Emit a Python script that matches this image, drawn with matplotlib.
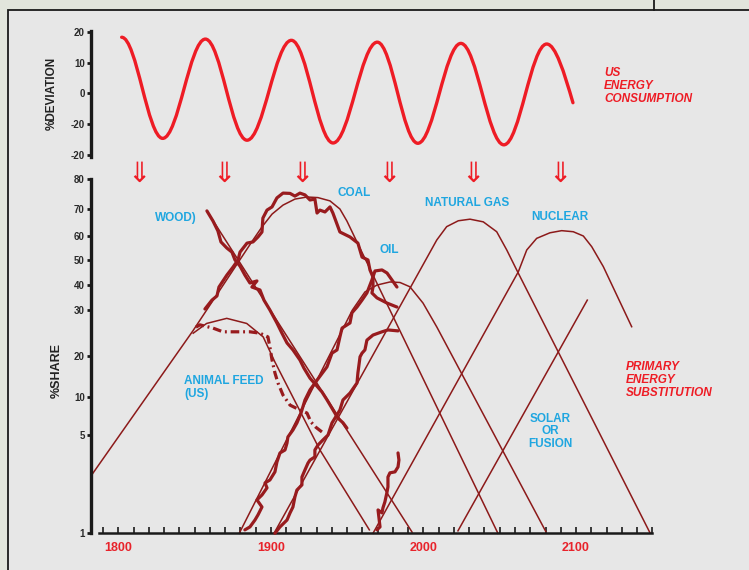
import numpy as np
import matplotlib
matplotlib.use("Agg")
import matplotlib.pyplot as plt
from matplotlib.path import Path
from matplotlib.patches import PathPatch, Rectangle
from matplotlib.lines import Line2D
from matplotlib.transforms import blended_transform_factory

# ---------------- data ----------------
# US energy consumption, % deviation (extremes of the wave)
wave_years = [1802.1, 1829.0, 1857.0, 1884.3, 1913.4, 1940.7, 1969.7, 1996.3, 2024.5, 2052.7, 2080.8, 2098.0]
wave_values = [18.3, -14.6, 17.7, -15.2, 17.3, -16.1, 16.7, -16.2, 16.3, -16.7, 16.1, -3.0]

arrow_years = [1813.6, 1869.2, 1920.5, 1977.6, 2032.3, 2089.5]

# substitution curves (thin)
wood_fit_years = [1859.3, 1992.5]
wood_fit_share = [68.2, 1.05]
coal_fit_years = [1782.4, 1848.8, 1888.2, 1894.1, 1900.7, 1907.9, 1915.7, 1923.6, 1930.8, 1938.7, 1945.2, 1949.8, 1955.1, 2048.8]
coal_fit_share = [3.37, 25.5, 58.3, 63.4, 68.2, 71.4, 73.4, 74.1, 73.9, 72.8, 70.1, 65.6, 59.2, 1.0]
feed_fit_years = [1849.0, 1857.8, 1871.0, 1884.1, 1894.9, 1902.6, 1932.1, 1964.5]
feed_fit_share = [25.0, 27.1, 28.2, 27.1, 24.2, 18.6, 4.39, 1.14]
oil_fit_years = [1879.2, 1953.4, 1961.6, 1969.5, 1978.0, 1984.6, 1991.1, 1999.7, 2008.8, 2080.3]
oil_fit_share = [1.0, 30.0, 37.3, 40.1, 41.3, 41.1, 39.4, 32.8, 26.3, 1.06]
gas_fit_years = [1902.0, 2008.7, 2015.2, 2022.8, 2030.5, 2039.2, 2048.0, 2054.6, 2061.1, 2148.5]
gas_fit_share = [1.0, 58.3, 63.5, 65.7, 66.3, 65.3, 61.6, 54.1, 46.0, 1.02]
nuclear_fit_years = [1966.9, 2062.2, 2067.7, 2074.2, 2082.9, 2090.6, 2098.2, 2104.8, 2110.3, 2117.9, 2136.5]
nuclear_fit_share = [1.0, 45.3, 54.1, 59.0, 61.2, 62.0, 61.6, 60.0, 55.5, 47.3, 26.4]
solar_fit_years = [2022.6, 2107.4]
solar_fit_share = [1.1, 34.0]

# historical data (thick)
wood_years = [1858.0, 1862.0, 1865.2, 1867.2, 1871.1, 1874.4, 1876.4, 1879.7, 1882.9, 1886.2, 1890.8, 1887.5,
              1892.8, 1895.4, 1899.3, 1903.9, 1907.2, 1910.5, 1914.4, 1919.0, 1921.6, 1925.6, 1929.5, 1933.4,
              1936.7, 1940.6, 1943.9, 1947.2, 1949.8]
wood_share = [69.4, 65.6, 61.9, 57.5, 54.9, 53.2, 49.9, 47.5, 44.0, 40.9, 41.7, 39.3,
              38.1, 34.0, 30.0, 27.2, 25.0, 22.9, 21.4, 19.1, 17.1, 14.6, 12.9, 11.2,
              9.6, 8.3, 7.2, 6.6, 5.9]
coal_years = [1856.7, 1861.3, 1864.6, 1865.9, 1871.1, 1875.1, 1878.4, 1879.7, 1884.3, 1888.2, 1891.5, 1894.1,
              1894.7, 1897.4, 1900.7, 1903.9, 1907.9, 1912.5, 1915.7, 1919.0, 1922.3, 1925.6, 1928.8, 1930.2,
              1932.1, 1935.4, 1938.7, 1940.6, 1945.2, 1951.8, 1957.0, 1959.7, 1963.6, 1964.9, 1966.9, 1966.9,
              1966.2, 1969.5, 1976.1, 1982.6]
coal_share = [30.4, 34.0, 35.7, 39.3, 44.0, 47.1, 49.9, 53.2, 57.0, 57.5, 59.6, 61.5,
              66.7, 69.7, 70.8, 73.8, 75.4, 75.3, 74.4, 75.4, 74.8, 73.1, 73.4, 68.6,
              69.7, 69.0, 70.8, 68.6, 61.5, 59.6, 57.0, 51.1, 49.9, 46.0, 43.2, 39.3,
              36.9, 34.9, 32.8, 31.2]
oil_years = [1882.9, 1886.2, 1889.5, 1891.5, 1894.1, 1890.8, 1894.1, 1897.4, 1896.1, 1899.3, 1902.6, 1903.9,
             1905.9, 1909.2, 1910.5, 1911.1, 1914.4, 1917.0, 1919.7, 1922.3, 1925.6, 1930.2, 1936.7, 1940.0,
             1943.3, 1945.2, 1946.6, 1951.8, 1953.1, 1956.4, 1959.7, 1962.9, 1966.2, 1968.2, 1972.8, 1976.1,
             1979.3, 1982.6]
oil_share = [1.14, 1.26, 1.54, 1.75, 2.07, 2.36, 2.56, 2.85, 3.05, 3.17, 3.50, 3.90,
             4.27, 4.39, 4.67, 4.92, 5.65, 6.57, 7.87, 9.57, 11.7, 14.1, 17.4, 20.7,
             21.4, 24.2, 26.1, 27.2, 29.4, 31.2, 34.0, 36.9, 42.1, 45.6, 46.0, 44.8,
             42.1, 39.3]
gas_years = [1902.6, 1905.9, 1910.5, 1912.5, 1914.4, 1915.7, 1917.0, 1920.3, 1920.3, 1922.3, 1924.3, 1925.6,
             1928.8, 1928.8, 1930.8, 1934.1, 1937.4, 1940.0, 1945.2, 1947.2, 1951.8, 1956.4, 1957.0, 1958.4,
             1959.7, 1961.6, 1962.9, 1966.9, 1972.8, 1976.7, 1983.3]
gas_share = [1.0, 1.26, 1.54, 1.83, 2.07, 2.48, 2.76, 2.97, 3.29, 3.58, 3.86, 3.98,
             4.11, 4.39, 4.59, 4.80, 5.0, 6.57, 8.26, 9.57, 10.9, 13.4, 15.9, 19.9,
             20.7, 21.4, 23.5, 24.6, 25.3, 25.7, 25.5]
nuclear_years = [1969.5, 1971.5, 1970.2, 1972.8, 1973.4, 1974.7, 1976.1, 1976.7, 1976.7, 1978.0, 1981.3,
                 1983.3, 1983.9, 1983.3]
nuclear_share = [1.14, 1.26, 1.95, 1.83, 2.03, 2.28, 2.68, 2.89, 3.29, 3.46, 3.50,
                 3.70, 3.98, 4.27]
feed_years = [1850.8, 1853.4, 1862.0, 1868.5, 1877.7, 1886.2, 1892.8, 1898.0, 1899.3, 1900.7, 1902.6, 1904.6,
              1907.9, 1912.5, 1919.0, 1923.6, 1926.2, 1929.5, 1933.4]
feed_share = [26.3, 26.8, 26.1, 25.3, 25.3, 25.3, 25.0, 24.2, 22.0, 19.1, 15.9, 13.4,
              10.4, 8.9, 8.26, 7.87, 6.70, 6.0, 5.4]

# printed share axis: tick values and their spacing (from the 1 % tick)
share_ticks = [1, 5, 10, 20, 30, 40, 50, 60, 70, 80]
share_spacing = [0, 98.3, 136.6, 176.9, 223.3, 248.0, 273.6, 297.3, 324.0, 354.0]

dev_ticks = [20, 10, 0, -10, -20]
dev_labels = ["20", "10", "0", "-20", "-20"]

# ---------------- style ----------------
W, H = 749, 570
RED = "#ee1c25"
DARK = "#981b1e"
THIN = "#8c1a1a"
BLUE = "#1fa6e0"
FONT = "Liberation Sans"

plt.rcParams["font.family"] = [FONT, "DejaVu Sans"]

fig = plt.figure(figsize=(W / 100, H / 100), dpi=100)
fig.patch.set_facecolor("#e2e5dc")


def rect(l, t, r, b):
    return [l / W, 1 - b / H, (r - l) / W, (b - t) / H]


# panel with black border
fig.add_artist(Rectangle((8 / W, -0.1), 1.2, 1.1 - 10 / H, transform=fig.transFigure,
                         facecolor="#e7e7e7", edgecolor="#1a1a1a", lw=1.3, zorder=-5))
fig.add_artist(Line2D([654 / W, 654 / W], [1, 1 - 10 / H], transform=fig.transFigure,
                      color="#1a1a1a", lw=1.3))

# ---------------- top panel ----------------
ax1 = fig.add_axes(rect(91, 30.8, 700, 156.5))
ax1.set_facecolor("none")
ax1.set_xlim(1782.0, 2181.3)
ax1.set_ylim(-20.5, 20.4)
for s in ["top", "right", "bottom"]:
    ax1.spines[s].set_visible(False)
ax1.spines["left"].set_linewidth(2.4)
ax1.spines["left"].set_color("#1a1a1a")
ax1.set_xticks([])
ax1.set_yticks(dev_ticks)
ax1.set_yticklabels(dev_labels)
ax1.tick_params(axis="y", direction="out", length=3, width=2, color="#1a1a1a",
                labelsize=7, labelcolor="#2a2a2a", pad=1.5)
for t in ax1.get_yticklabels():
    t.set_fontweight("bold")

# smooth wave through the read extremes
verts = [(wave_years[0], wave_values[0])]
codes = [Path.MOVETO]
k = 0.3634
for i in range(1, len(wave_years)):
    x0, y0 = wave_years[i - 1], wave_values[i - 1]
    x1, y1 = wave_years[i], wave_values[i]
    dx = x1 - x0
    if i < len(wave_years) - 1:
        c1 = (x0 + k * dx, y0)
        c2 = (x1 - k * dx, y1)
    else:
        c1 = (x0 + dx / 3, y0)
        c2 = (x1 - dx / 3, y1 + (dx / 3) * 1.7)
    verts += [c1, c2, (x1, y1)]
    codes += [Path.CURVE4] * 3
ax1.add_patch(PathPatch(Path(verts, codes), facecolor="none", edgecolor=RED, lw=2.4,
                        capstyle="round"))

fig.text(52 / W, 1 - 93 / H, "%DEVIATION", rotation=90, ha="center", va="center",
         fontsize=8.5, fontweight="bold", color="#222222")
for i, line in enumerate(["US", "ENERGY", "CONSUMPTION"]):
    fig.text(604 / W, 1 - (73 + 13 * i) / H, line, ha="left", va="center", fontsize=8.5,
             fontweight="bold", style="italic", color=RED)

# ---------------- bottom panel ----------------
ax2 = fig.add_axes(rect(91, 179.3, 700, 533.3))
ax2.set_facecolor("none")


def fwd(p):
    return np.interp(p, share_ticks, share_spacing)


def inv(v):
    return np.interp(v, share_spacing, share_ticks)


ax2.set_yscale("function", functions=(fwd, inv))
ax2.set_xlim(1782.0, 2181.3)
ax2.set_ylim(1, 80)
for s in ["top", "right"]:
    ax2.spines[s].set_visible(False)
ax2.spines["left"].set_linewidth(2.4)
ax2.spines["left"].set_color("#1a1a1a")
ax2.spines["bottom"].set_linewidth(1.8)
ax2.spines["bottom"].set_color("#1a1a1a")
ax2.spines["bottom"].set_bounds(1787.4, 2150)
ax2.set_yticks(share_ticks)
ax2.set_yticklabels([str(v) for v in share_ticks])
ax2.yaxis.set_minor_locator(matplotlib.ticker.NullLocator())
ax2.tick_params(axis="y", direction="out", length=3, width=2, color="#1a1a1a",
                labelsize=7, labelcolor="#2a2a2a", pad=1.5)
decades = list(range(1790, 2151, 10))
ax2.set_xticks(decades)
ax2.set_xticklabels([str(d) if d % 100 == 0 else "" for d in decades])
ax2.tick_params(axis="x", direction="in", length=4, width=1.2, color="#1a1a1a",
                labelsize=9, labelcolor="#e8232b", pad=6)
for t in ax2.get_yticklabels():
    t.set_fontweight("bold")
for t in ax2.get_xticklabels():
    t.set_fontweight("bold")

fits = [(wood_fit_years, wood_fit_share), (coal_fit_years, coal_fit_share),
        (feed_fit_years, feed_fit_share), (oil_fit_years, oil_fit_share),
        (gas_fit_years, gas_fit_share), (nuclear_fit_years, nuclear_fit_share),
        (solar_fit_years, solar_fit_share)]
for xs, ys in fits:
    ax2.plot(xs, ys, color=THIN, lw=1.1, solid_joinstyle="round", zorder=2, clip_on=False)

for xs, ys in [(wood_years, wood_share), (coal_years, coal_share), (oil_years, oil_share),
               (gas_years, gas_share), (nuclear_years, nuclear_share)]:
    ax2.plot(xs, ys, color=DARK, lw=2.3, solid_joinstyle="round", solid_capstyle="round",
             zorder=3, clip_on=False)
ax2.plot(feed_years, feed_share, color=DARK, lw=2.3, linestyle=(0, (2.7, 1.2, 0.6, 1.2)),
         zorder=3, clip_on=False)

# arrows between the panels
arrow_tr = blended_transform_factory(ax2.transData, fig.transFigure)
for yr in arrow_years:
    ax2.text(yr, 1 - 174 / H, "\u21d3", transform=arrow_tr, ha="center", va="center",
             fontsize=20, color=RED, family="DejaVu Sans", clip_on=False)

fig.text(57 / W, 1 - 370 / H, "%SHARE", rotation=90, ha="center", va="center",
         fontsize=9, fontweight="bold", color="#222222")

labels = [("WOOD)", 155, 218), ("COAL", 338, 193), ("OIL", 380, 250),
          ("NATURAL GAS", 425, 203), ("NUCLEAR", 531, 217),
          ("ANIMAL FEED", 184, 381), ("(US)", 184, 394)]
for txt, x, y in labels:
    fig.text(x / W, 1 - y / H, txt, ha="left", va="center", fontsize=8.5,
             fontweight="bold", color=BLUE)
for i, line in enumerate(["SOLAR", "OR", "FUSION"]):
    fig.text(550 / W, 1 - (419 + 12.5 * i) / H, line, ha="center", va="center",
             fontsize=8.5, fontweight="bold", color=BLUE)
for i, line in enumerate(["PRIMARY", "ENERGY", "SUBSTITUTION"]):
    fig.text(626 / W, 1 - (367 + 12.8 * i) / H, line, ha="left", va="center",
             fontsize=8.5, fontweight="bold", style="italic", color=RED)

fig.savefig("out.png", dpi=100, facecolor=fig.get_facecolor())
